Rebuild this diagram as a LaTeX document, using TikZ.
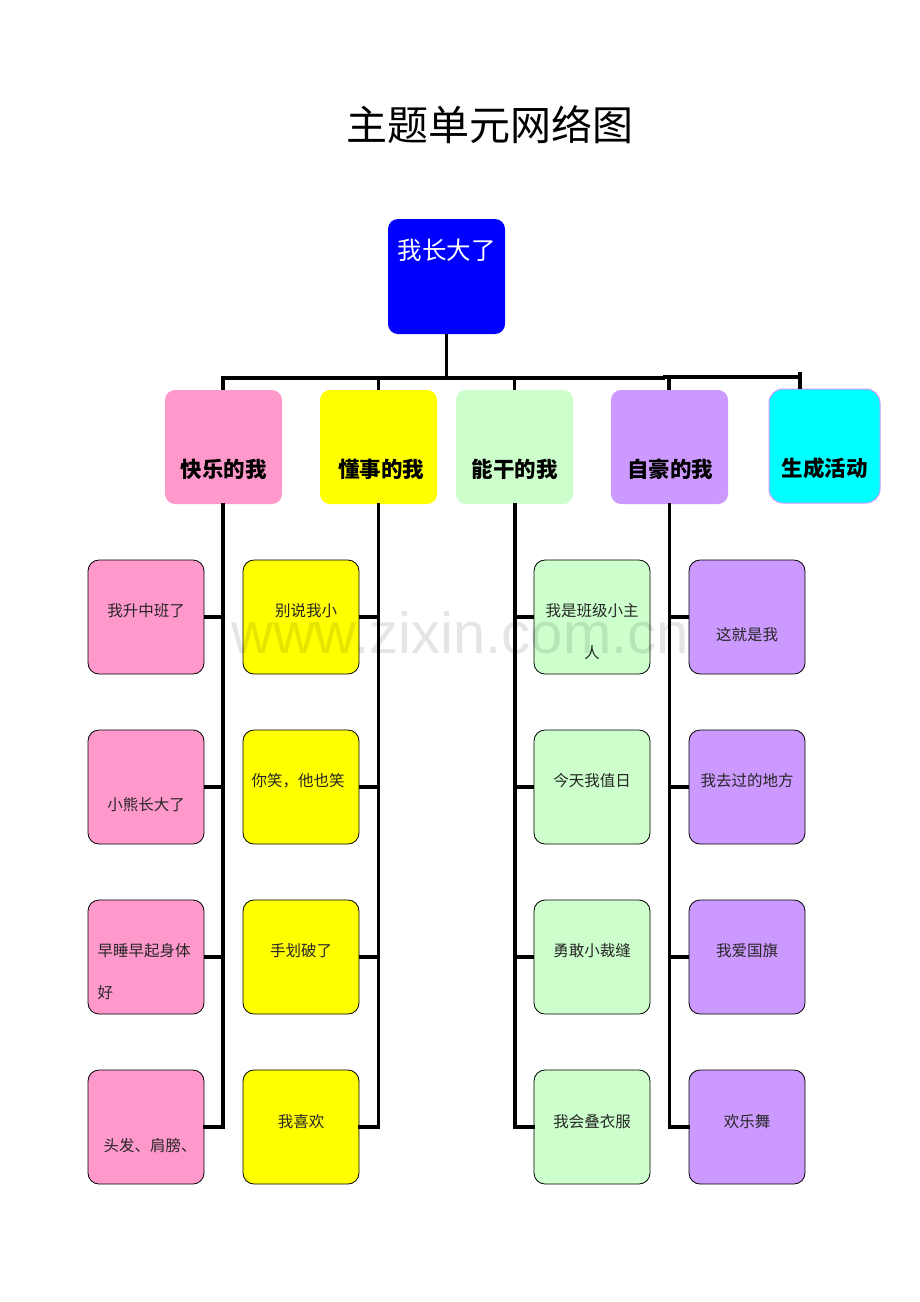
\documentclass[tikz,border=0pt]{standalone}
\usepackage{fontspec}
\setmainfont{Liberation Sans}
\newfontfamily\cjk{Noto Sans CJK SC}
\begin{document}
\begin{tikzpicture}[x=1pt,y=-1pt,
  top/.style={rounded corners=10pt,minimum width=117pt,minimum height=114pt,inner sep=0pt,draw=none},
  sub/.style={rounded corners=11pt,minimum width=116pt,minimum height=114pt,inner sep=0pt,draw=black,line width=0.8pt},
  ttl/.style={font=\cjk\bfseries\fontsize{21.5}{24}\selectfont,text=black},
  lbl/.style={font=\cjk\fontsize{15.5}{18}\selectfont,text=black!85},
  bar/.style={line width=4pt},
  stem/.style={line width=3.5pt},
  arm/.style={line width=3.4pt}]
\useasboundingbox (0,0) rectangle (920,1302);
\fill[white] (0,0) rectangle (920,1302);
% title
\node[font=\cjk\fontsize{41}{45}\selectfont] (title) at (490,125) {主题单元网络图};
% root
\node[top,fill=blue,minimum width=117pt,minimum height=115pt] (root) at (446.5,276.5) {};
\node[font=\cjk\fontsize{24.5}{28}\selectfont,text=white] (roottxt) at (446.5,250) {我长大了};
% level 1
\definecolor{pinkc}{HTML}{FF99CC}
\definecolor{yelc}{HTML}{FFFF00}
\definecolor{grnc}{HTML}{CCFFCC}
\definecolor{purc}{HTML}{CC99FF}
\definecolor{cyac}{HTML}{00FFFF}
\node[top,fill=pinkc] (a) at (223.5,447) {};
\node[top,fill=yelc] (b) at (378.5,447) {};
\node[top,fill=grnc] (c) at (514.5,447) {};
\node[top,fill=purc] (d) at (669.5,447) {};
\node[top,fill=cyac,draw=purc,line width=1pt,minimum width=111pt,minimum height=114pt,rounded corners=14pt] (e) at (824.5,446) {};
\node[ttl] (at) at (223.5,469) {快乐的我};
\node[ttl] (bt) at (381,469) {懂事的我};
\node[ttl] (ct) at (514.5,469) {能干的我};
\node[ttl] (dt) at (670,469) {自豪的我};
\node[ttl] (et) at (824.5,468) {生成活动};
% connectors top
\coordinate (j) at (446.5,377.5);
\draw[stem] (root.south) -- (j);
\draw[bar] (221.2,377.5) -- (665,377.5);
\draw[bar] (663,376.5) -- (802,376.5);
\draw[stem] (223,376) -- (a.north -| 223,0);
\draw[stem] (378.5,376) -- (b.north);
\draw[stem] (514.5,376) -- (c.north);
\draw[stem] (669,376) -- (669,390);
\draw[stem] (800,372) -- (e.north -| 800,0);
% level 2 boxes
\foreach \n/\y in {1/617,2/787,3/957,4/1127}{
  \node[sub,fill=pinkc] (a\n) at (146,\y) {};
  \node[sub,fill=yelc] (b\n) at (301,\y) {};
  \node[sub,fill=grnc] (c\n) at (592,\y) {};
  \node[sub,fill=purc] (d\n) at (747,\y) {};
}
% spines
\draw[arm,line cap=rect] (a.south -| 223,0) -- (223,1127) -- (a4.east);
\draw[arm,line cap=rect] (b.south -| 378.5,0) -- (378.5,1127) -- (b4.east);
\draw[arm,line cap=rect] (c.south -| 515,0) -- (515,1127) -- (c4.west);
\draw[arm,line cap=rect] (d.south -| 669.5,0) -- (669.5,1127) -- (d4.west);
\foreach \n/\y in {1/617,2/787,3/957}{
  \draw[arm] (a\n.east) -- (223,\y);
  \draw[arm] (b\n.east) -- (378.5,\y);
  \draw[arm] (c\n.west) -- (515,\y);
  \draw[arm] (d\n.west) -- (669.5,\y);
}
% labels
\node[lbl] (a1t) at (146,611) {我升中班了};
\node[lbl] (a2t) at (146,805) {小熊长大了};
\node[lbl,anchor=west] (a3t) at (94,951) {早睡早起身体};
\node[lbl,anchor=west] (a3u) at (94,993) {好};
\node[lbl] (a4t) at (150,1146) {头发、肩膀、};
\node[lbl] (b1t) at (306,611) {别说我小};
\node[lbl] (b2t) at (298,781) {你笑，他也笑};
\node[lbl] (b3t) at (301,951) {手划破了};
\node[lbl] (b4t) at (301,1122) {我喜欢};
\node[lbl] (c1t) at (592,611) {我是班级小主};
\node[lbl] (c1u) at (592,653) {人};
\node[lbl] (c2t) at (592,781) {今天我值日};
\node[lbl] (c3t) at (592,951) {勇敢小裁缝};
\node[lbl] (c4t) at (592,1122) {我会叠衣服};
\node[lbl] (d1t) at (747,635) {这就是我};
\node[lbl] (d2t) at (747,781) {我去过的地方};
\node[lbl] (d3t) at (747,951) {我爱国旗};
\node[lbl] (d4t) at (747,1122) {欢乐舞};
% watermark
\node[font=\fontsize{58}{60}\selectfont,text=black,opacity=0.1] (wm) at (460,633) {www.zixin.com.cn};
\end{tikzpicture}
\end{document}
